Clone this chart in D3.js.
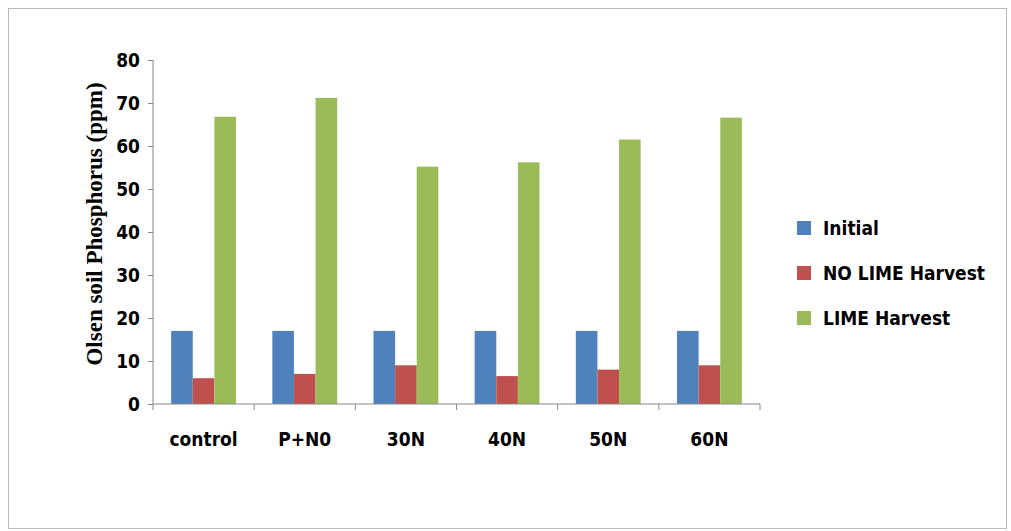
<!DOCTYPE html><html><head><script src="https://cdn.jsdelivr.net/npm/d3@7"></script>
<style>body{margin:0;background:#fff}</style></head><body><svg id="c" width="1011" height="531"></svg>
<script>
const categories=["control","P+N0","30N","40N","50N","60N"];
const seriesNames=["Initial","NO LIME Harvest","LIME Harvest"];
const initial=[17,17,17,17,17,17];
const noLime=[6,7,9,6.5,8,9];
const lime=[66.8,71.2,55.2,56.2,61.5,66.6];
const yTicks=[0,10,20,30,40,50,60,70,80];
const colors=["#4f81bd","#c0504d","#9bbb59"];
const svg=d3.select("#c");
svg.append("rect").attr("x",8.5).attr("y",8.5).attr("width",998).attr("height",520).attr("fill","none").attr("stroke","#bbb");
const x=d3.scaleBand().domain(categories).range([153,760]).paddingInner(0).paddingOuter(0);
const y=d3.scaleLinear().domain([0,80]).range([404,60]);
const series=[initial,noLime,lime];
const xs=d3.scaleBand().domain([0,1,2]).range([0,x.bandwidth()]).paddingInner(0).paddingOuter(0.84);
series.forEach((s,i)=>{
 svg.append("g").selectAll("rect").data(s).join("rect")
  .attr("x",(d,j)=>x(categories[j])+xs(i)).attr("width",xs.bandwidth())
  .attr("y",d=>y(d)).attr("height",d=>404-y(d)).attr("fill",colors[i]);
});
const F="DejaVu Sans Condensed, DejaVu Sans";
const ya=svg.append("g").attr("transform","translate(153,0)").call(d3.axisLeft(y).tickValues(yTicks).tickSize(5).tickPadding(8));
ya.selectAll("text").attr("font-family",F).attr("font-size",19).attr("font-weight","bold").attr("fill","#000");
ya.selectAll("line,path").attr("stroke","#888");
ya.select("path").attr("d","M0,60V404");
const xa=svg.append("g").attr("transform","translate(0,404)");
xa.append("line").attr("x1",153).attr("x2",760).attr("stroke","#888");
const edges=categories.map(c=>x(c)).concat([760]);
xa.selectAll("line.t").data(edges).join("line").attr("x1",d=>d).attr("x2",d=>d).attr("y1",0).attr("y2",6).attr("stroke","#888");
xa.selectAll("text").data(categories).join("text").attr("x",d=>x(d)+x.bandwidth()/2).attr("y",42)
 .attr("text-anchor","middle").attr("font-family",F).attr("font-weight","bold").attr("font-size",19).text(d=>d);
svg.append("text").attr("transform","translate(102,224) rotate(-90)").attr("text-anchor","middle")
 .attr("font-family","Liberation Serif, Times New Roman").attr("font-weight","bold").attr("font-size",23).text("Olsen soil Phosphorus (ppm)");
const lg=svg.append("g");
seriesNames.forEach((n,i)=>{
 const yy=228+i*45;
 lg.append("rect").attr("x",797).attr("y",yy-7).attr("width",14).attr("height",14).attr("fill",colors[i]);
 lg.append("text").attr("x",823).attr("y",yy+7).attr("font-family",F).attr("font-weight","bold").attr("font-size",19).text(n);
});
</script></body></html>
